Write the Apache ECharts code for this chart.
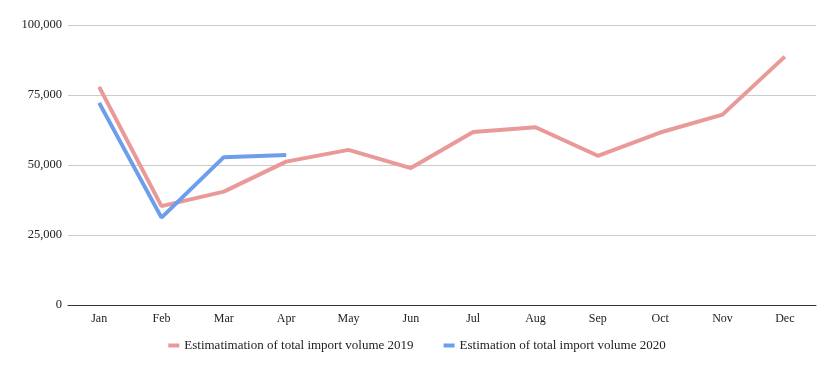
<!DOCTYPE html>
<html><head><meta charset="utf-8">
<script src="https://cdn.jsdelivr.net/npm/echarts@6/dist/echarts.min.js"></script>
<style>html,body{margin:0;padding:0;background:#fff}#c{width:834px;height:371px}</style>
</head><body><div id="c"></div>
<script>
const categories = ['Jan','Feb','Mar','Apr','May','Jun','Jul','Aug','Sep','Oct','Nov','Dec'];
const series2019 = [77900, 35300, 40500, 51200, 55400, 48900, 61800, 63500, 53300, 61600, 68000, 88700];
const series2020 = [72200, 31200, 52800, 53600];
const name2019 = 'Estimatimation of total import volume 2019';
const name2020 = 'Estimation of total import volume 2020';
const font = '"Liberation Serif", "DejaVu Serif", serif';
const chart = echarts.init(document.getElementById('c'));
chart.setOption({
  animation: false,
  textStyle: { fontFamily: font },
  grid: { left: 68, right: 18, top: 25, bottom: 66 },
  legend: {
    bottom: 14, left: 'center', itemWidth: 11, itemHeight: 4, itemGap: 30,
    icon: 'rect',
    textStyle: { fontFamily: font, fontSize: 13, color: '#222' },
    data: [name2019, name2020]
  },
  xAxis: {
    type: 'category', data: categories, boundaryGap: true,
    axisLine: { lineStyle: { color: '#333', width: 1 } },
    axisTick: { show: false },
    axisLabel: { color: '#222', fontSize: 12, fontFamily: font, margin: 8 }
  },
  yAxis: {
    type: 'value', min: 0, max: 100000, interval: 25000,
    axisLine: { show: false }, axisTick: { show: false },
    splitLine: { lineStyle: { color: '#ccc' } },
    axisLabel: { color: '#222', fontSize: 12.5, fontFamily: font, margin: 6,
      formatter: v => v.toLocaleString('en-US') }
  },
  series: [
    { name: name2019, type: 'line', data: series2019, symbol: 'none',
      lineStyle: { color: '#ea9999', width: 4 }, itemStyle: { color: '#ea9999' } },
    { name: name2020, type: 'line', data: series2020, symbol: 'none',
      lineStyle: { color: '#6d9eeb', width: 4 }, itemStyle: { color: '#6d9eeb' } }
  ]
});
</script></body></html>
